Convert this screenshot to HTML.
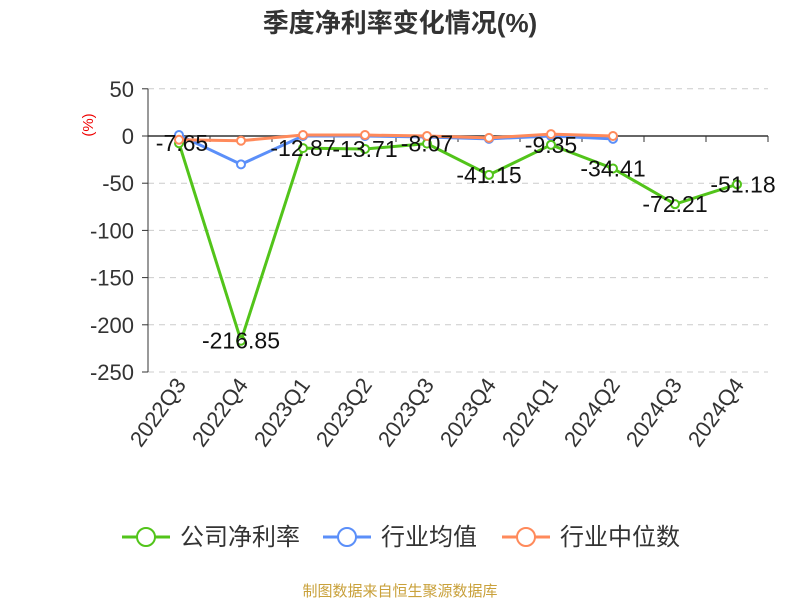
<!DOCTYPE html>
<html><head><meta charset="utf-8"><style>
body{margin:0;background:#fff;width:800px;height:600px;overflow:hidden;font-family:"Liberation Sans","Noto Sans CJK SC",sans-serif}
</style></head><body>
<svg id="c" width="800" height="600" xmlns="http://www.w3.org/2000/svg">
<text x="400" y="32" text-anchor="middle" font-size="26" font-weight="bold" fill="#333">季度净利率变化情况(%)</text>
<text transform="translate(93,125) rotate(-90)" text-anchor="middle" font-size="15" fill="#e00">(%)</text>
<g id="grid"></g><g id="series"></g><g id="labels"></g>
<g>
<g><line x1="122" y1="537" x2="170" y2="537" stroke="#52c41a" stroke-width="3"/><circle cx="146" cy="537" r="9" fill="#fff" stroke="#52c41a" stroke-width="2"/><text x="180" y="545" font-size="24" fill="#333">公司净利率</text></g>
<g><line x1="323" y1="537" x2="371" y2="537" stroke="#5b8ff9" stroke-width="3"/><circle cx="347" cy="537" r="9" fill="#fff" stroke="#5b8ff9" stroke-width="2"/><text x="381" y="545" font-size="24" fill="#333">行业均值</text></g>
<g><line x1="502" y1="537" x2="550" y2="537" stroke="#ff8a5b" stroke-width="3"/><circle cx="526" cy="537" r="9" fill="#fff" stroke="#ff8a5b" stroke-width="2"/><text x="560" y="545" font-size="24" fill="#333">行业中位数</text></g>
</g>
<text x="400" y="596" text-anchor="middle" font-size="15" fill="#c9a13b">制图数据来自恒生聚源数据库</text>
</svg>
<script>
const categories=["2022Q3","2022Q4","2023Q1","2023Q2","2023Q3","2023Q4","2024Q1","2024Q2","2024Q3","2024Q4"];
const company=[-7.65,-216.85,-12.87,-13.71,-8.07,-41.15,-9.35,-34.41,-72.21,-51.18];
const industryAvg=[1,-30,0,0,-1,-3,0,-3];
const industryMedian=[-4,-5,1,1,0,-2,2,0];
const yTicks=[50,0,-50,-100,-150,-200,-250];
const NS="http://www.w3.org/2000/svg";
const x0=148,x1=768,bw=(x1-x0)/categories.length;
const X=i=>x0+bw*(i+0.5);
const Y=v=>136-v*0.944;
function mk(t,a,p){const e=document.createElementNS(NS,t);for(const k in a)e.setAttribute(k,a[k]);p.appendChild(e);return e;}
const grid=document.getElementById('grid');
yTicks.forEach(v=>{
 if(v!==0){const l=mk('line',{x1:x0,x2:x1,y1:Y(v),y2:Y(v),stroke:'#ccc','stroke-dasharray':'6,5'},grid);
 }
 mk('line',{x1:x0-6,x2:x0,y1:Y(v),y2:Y(v),stroke:'#333'},grid);
 const t=mk('text',{x:x0-14,y:Y(v)+8,'text-anchor':'end','font-size':22,fill:'#333'},grid);t.textContent=v;
 
});
mk('line',{x1:x0,x2:x0,y1:Y(50),y2:Y(-250),stroke:'#333'},grid);
const ax=mk('line',{x1:x0,x2:x1,y1:Y(0),y2:Y(0),stroke:'#333','stroke-width':1.5},grid);

for(let i=0;i<=categories.length;i++)mk('line',{x1:x0+bw*i,x2:x0+bw*i,y1:Y(0),y2:Y(0)+6,stroke:'#333'},grid);
categories.forEach((c,i)=>{
 const t=mk('text',{transform:`translate(${X(i)+8},${385}) rotate(-54)`,'text-anchor':'end','font-size':22,fill:'#333'},grid);
 t.textContent=c;
});
const sg=document.getElementById('series');
function series(d,color,name){
 const g=mk('g',{},sg);
 mk('polyline',{points:d.map((v,i)=>X(i)+','+Y(v)).join(' '),fill:'none',stroke:color,'stroke-width':3},g);
 d.forEach((v,i)=>{const c=mk('circle',{cx:X(i),cy:Y(v),r:4,fill:'#fff',stroke:color,'stroke-width':2},g);
 });
}
series(industryAvg,'#5b8ff9','industry-avg-series');
series(company,'#52c41a','company-series');
series(industryMedian,'#ff8a5b','industry-median-series');
const lg=document.getElementById('labels');
company.forEach((v,i)=>{
 const t=mk('text',{x:X(i)+(i==0?3:i==9?6:0),y:Y(v)+8,'text-anchor':'middle','font-size':23,fill:'#111'},lg);
 t.textContent=v.toFixed(2).replace(/\.?0+$/,'');
 
});
</script>
</body></html>
